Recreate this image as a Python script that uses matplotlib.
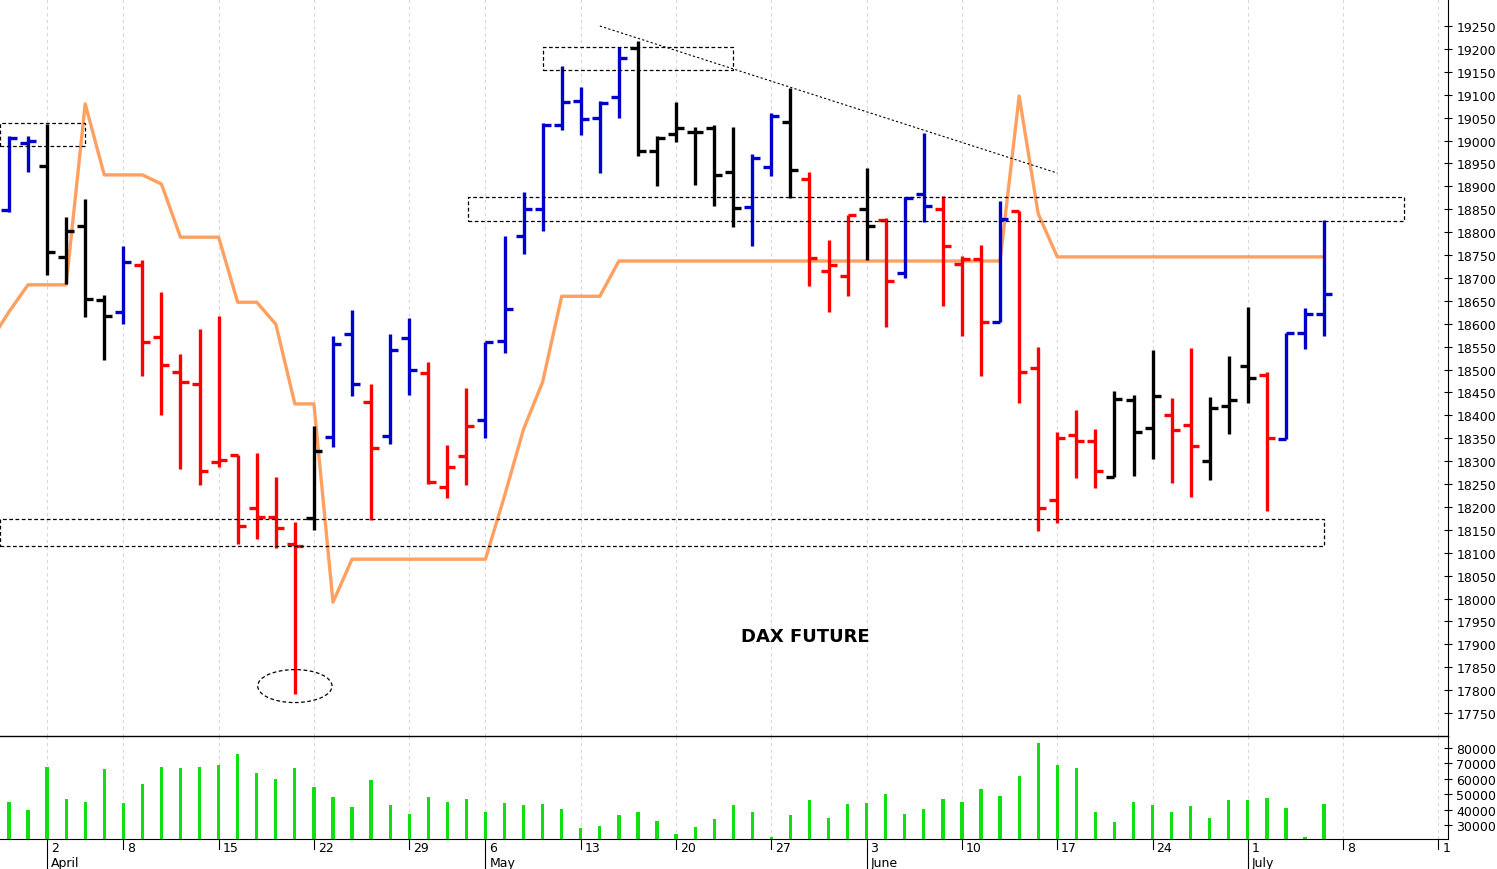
import matplotlib
matplotlib.use("Agg")
import matplotlib.pyplot as plt
from matplotlib.patches import Rectangle, Ellipse
import matplotlib.transforms as mtransforms

opens  = [18849,18995,18944,18746,18813,18652,18626,18728,18571,18495,18468,18298,18313,18198,18178,18119,18176,18353,18577,18429,
          18355,18569,18492,18243,18311,18390,18562,18791,18850,19034,19086,19049,19095,19202,18977,19014,19019,19027,18931,18855,
          18942,19040,18916,18715,18704,18850,18826,18711,18883,18850,18730,18741,18604,18846,18503,18215,18357,18344,18265,18433,
          18372,18401,18379,18300,18420,18508,18488,18348,18580,18621]
highs  = [19009,19009,19037,18833,18872,18663,18770,18739,18670,18534,18588,18617,18313,18318,18266,18167,18377,18573,18630,18468,
          18577,18612,18516,18335,18460,18560,18791,18888,19038,19163,19117,19086,19204,19217,19010,19084,19029,19034,19029,18970,
          19060,19115,18931,18783,18837,18940,18831,18877,19016,18879,18748,18772,18868,18846,18549,18364,18412,18370,18453,18444,
          18543,18438,18547,18440,18529,18637,18494,18580,18634,18826]
lows   = [18845,18931,18706,18687,18615,18521,18599,18486,18401,18283,18248,18287,18119,18130,18110,17792,18150,18331,18442,18171,
          18337,18444,18250,18219,18248,18350,18536,18752,18802,19023,19012,18929,19049,18966,18901,18997,18903,18857,18811,18770,
          18922,18874,18682,18626,18660,18739,18593,18700,18822,18639,18573,18486,18604,18427,18147,18165,18263,18241,18265,18267,
          18305,18252,18222,18259,18359,18427,18191,18348,18545,18573]
closes = [19005,19000,18757,18802,18654,18617,18735,18560,18510,18473,18279,18303,18158,18178,18154,18115,18322,18556,18468,18329,
          18543,18499,18254,18287,18377,18560,18632,18850,19034,19084,19047,19082,19180,18978,19005,19027,19019,18925,18853,18962,
          19053,18936,18743,18728,18837,18813,18693,18875,18857,18770,18741,18604,18829,18495,18198,18350,18344,18278,18436,18363,
          18442,18368,18333,18416,18433,18482,18350,18580,18621,18665]
bar_colors = list("bbkkkkbrrrrrrrrrkbbrbbrrrbbbbbbbbkkkkkkbbkrrrkrbbrrrbrrrrrkkkrrkkkrbbb")
volumes = [44900,39700,67700,46900,44900,66400,44300,56600,67700,67000,67700,69000,76100,63800,59900,67000,54700,48200,41700,59200,
           43000,37100,48200,44900,46900,38400,44300,43000,43600,40400,28100,29400,36500,38400,32600,24200,28700,33900,43000,38400,
           22200,36500,46200,34500,43600,44300,50100,37100,40400,46900,44900,53400,48800,61800,83200,69000,67000,38400,31900,44900,
           43000,38400,42300,34500,46200,46200,47500,41000,22200,43600]
stop_line = [18560,18626,18685,18685,18685,19080,18925,18925,18925,18905,18789,18789,18789,18647,18647,18599,18425,18425,17992,18086,
             18086,18086,18086,18086,18086,18086,18086,18224,18370,18473,18660,18660,18660,18737] + [18737]*20 + [19097,18840] + [18746]*15
day_ticks = [(2,"2"),(6,"8"),(11,"15"),(16,"22"),(21,"29"),(25,"6"),(30,"13"),(35,"20"),(40,"27"),(45,"3"),(50,"10"),(55,"17"),
             (60,"24"),(65,"1"),(70,"8"),(75,"1")]
month_ticks = [(2,"April"),(25,"May"),(45,"June"),(65,"July")]
price_ticks = list(range(17750, 19251, 50))
vol_ticks = [30000,40000,50000,60000,70000,80000]

cmap = {"b":"#0000cc","r":"#ff0000","k":"#000000"}
fig = plt.figure(figsize=(14.97,8.7), dpi=100)
ax = fig.add_axes([0, 133/870, 1448/1497, 737/870])
axv = fig.add_axes([0, 30/870, 1448/1497, 103/870], sharex=ax)
XL = (-0.47, 75.5)
lw = 2.4
tk = 0.42
for i,(o,h,l,c,col) in enumerate(zip(opens,highs,lows,closes,bar_colors)):
    cc = cmap[col]
    ax.plot([i,i],[l,h],color=cc,lw=lw,solid_capstyle="butt",zorder=3)
    ax.plot([i-tk,i],[o,o],color=cc,lw=lw,solid_capstyle="butt",zorder=3)
    ax.plot([i,i+tk],[c,c],color=cc,lw=lw,solid_capstyle="butt",zorder=3)
ax.plot(range(-1,len(stop_line)-1), stop_line, color="#ffa060", lw=2.4, zorder=2)
for p in [(-0.47,18988,4.47,50),(28,19154,10,50),(24.1,18824,49.1,53),(-0.47,18115,69.47,59)]:
    ax.add_patch(Rectangle((p[0],p[1]),p[2],p[3],fill=False,ls=(0,(3,2)),lw=0.9,color="black",zorder=4))
ax.add_patch(Ellipse((15,17809),3.9,72,fill=False,ls=(0,(3,2)),lw=0.9,color="black",zorder=4))
ax.plot([31.0,55.0],[19250,18929],ls=(0,(2,2)),lw=0.8,color="black",zorder=4)
ax.text(41.8,17918,"DAX FUTURE",fontsize=13,fontweight="bold",ha="center",va="center")
ax.set_xlim(*XL); ax.set_ylim(17700,19309)
ax.yaxis.tick_right()
ax.set_yticks(price_ticks)
ax.set_yticklabels([str(t) for t in price_ticks], fontsize=9)
ax.tick_params(axis="y", direction="inout", length=6, pad=3)
ax.tick_params(axis="x", bottom=False, labelbottom=False)
ax.spines["bottom"].set_visible(False)
for s in ["top","left"]:
    ax.spines[s].set_visible(False)
    axv.spines[s].set_visible(False)
for a in (ax, axv):
    for d,_ in day_ticks:
        a.axvline(d, color="#d8d8d8", ls=(0,(3,3)), lw=0.8, zorder=0)
axv.bar(range(len(volumes)), volumes, width=0.17, color="#10e010", zorder=3)
axv.set_ylim(20900,87800)
axv.yaxis.tick_right()
axv.set_yticks(vol_ticks)
axv.set_yticklabels([str(t) for t in vol_ticks], fontsize=9)
axv.tick_params(axis="y", direction="inout", length=6, pad=3)
axv.tick_params(axis="x", bottom=False, labelbottom=False)
fig.add_artist(plt.Line2D([0,1448/1497],[133/870,133/870],color="black",lw=1))
trans = mtransforms.blended_transform_factory(axv.transData, fig.transFigure)
for d,lab in day_ticks:
    axv.plot([d,d],[30/870,20/870],transform=trans,color="black",lw=0.8,clip_on=False)
    axv.text(d+0.2, 21/870, lab, transform=trans, fontsize=9, ha="left", va="center")
for d,lab in month_ticks:
    axv.plot([d,d],[20/870,0],transform=trans,color="black",lw=0.8,clip_on=False)
    axv.text(d+0.2, 6/870, lab, transform=trans, fontsize=9, ha="left", va="center")
fig.savefig("out.png", dpi=100)
